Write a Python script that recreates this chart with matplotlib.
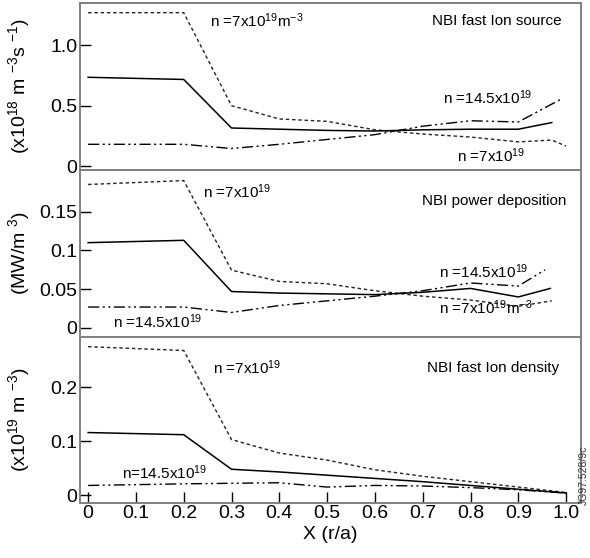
import matplotlib
matplotlib.use("Agg")
import matplotlib.pyplot as plt

plt.rcParams['font.family'] = ['Liberation Sans', 'DejaVu Sans']
plt.rcParams['mathtext.default'] = 'regular'

# radial positions (r/a) and profiles
# top panel: NBI fast ion source (x10^18 m^-3 s^-1)
x_src_lo = [0.0, 0.2, 0.3, 0.4, 0.5, 0.6, 0.7, 0.8, 0.9, 0.97, 1.0]
src_lo = [1.27, 1.27, 0.50, 0.39, 0.37, 0.30, 0.265, 0.24, 0.20, 0.215, 0.165]
x_src_mid = [0.0, 0.2, 0.3, 0.4, 0.5, 0.6, 0.7, 0.8, 0.9, 0.97]
src_mid = [0.735, 0.717, 0.315, 0.305, 0.295, 0.29, 0.30, 0.305, 0.305, 0.36]
x_src_hi = [0.0, 0.2, 0.3, 0.4, 0.5, 0.6, 0.7, 0.8, 0.9, 0.99]
src_hi = [0.18, 0.18, 0.145, 0.18, 0.22, 0.26, 0.33, 0.375, 0.365, 0.555]

# middle panel: NBI power deposition (MW/m^3)
x_pow_lo = [0.0, 0.2, 0.3, 0.4, 0.5, 0.6, 0.7, 0.8, 0.9, 0.97]
pow_lo = [0.185, 0.19, 0.0745, 0.06, 0.057, 0.048, 0.041, 0.036, 0.028, 0.035]
x_pow_mid = [0.0, 0.2, 0.3, 0.4, 0.5, 0.6, 0.7, 0.8, 0.9, 0.967]
pow_mid = [0.110, 0.113, 0.047, 0.045, 0.044, 0.043, 0.046, 0.051, 0.040, 0.051]
x_pow_hi = [0.0, 0.2, 0.3, 0.4, 0.5, 0.6, 0.7, 0.8, 0.9, 0.956]
pow_hi = [0.027, 0.027, 0.020, 0.029, 0.035, 0.041, 0.048, 0.058, 0.054, 0.075]

# bottom panel: NBI fast ion density (x10^19 m^-3)
x_den = [0.0, 0.2, 0.3, 0.4, 0.5, 0.6, 0.7, 0.8, 0.9, 1.0]
den_lo = [0.275, 0.268, 0.103, 0.078, 0.065, 0.047, 0.035, 0.025, 0.015, 0.005]
den_mid = [0.116, 0.112, 0.048, 0.043, 0.037, 0.031, 0.025, 0.018, 0.011, 0.004]
den_hi = [0.018, 0.021, 0.022, 0.023, 0.015, 0.018, 0.017, 0.014, 0.010, 0.004]

xticks = [0, 0.1, 0.2, 0.3, 0.4, 0.5, 0.6, 0.7, 0.8, 0.9, 1.0]
xtick_labels = ['0', '0.1', '0.2', '0.3', '0.4', '0.5', '0.6', '0.7', '0.8', '0.9', '1.0']

dashed = (0, (2.5, 2.0))
dashdot = (0, (8, 2.5, 1.5, 2.5, 1.5, 2.5))
spine_col = '#808080'

fig = plt.figure(figsize=(5.9, 5.58), dpi=100)
ax1 = fig.add_axes([0.1356, 0.6953, 0.849, 0.2993])
ax2 = fig.add_axes([0.1356, 0.3961, 0.849, 0.2993])
ax3 = fig.add_axes([0.1356, 0.0977, 0.849, 0.2984])

for ax in (ax1, ax2, ax3):
    for s in ax.spines.values():
        s.set_color(spine_col)
        s.set_linewidth(1.4)
    ax.set_xlim(-0.017, 1.031)
    ax.tick_params(axis='y', direction='in', length=8, width=1, pad=2,
                   labelsize=14, right=False)
    ax.yaxis.set_label_coords(-0.096, 0.5)

ax1.tick_params(axis='x', bottom=False, labelbottom=False)
ax2.tick_params(axis='x', bottom=False, labelbottom=False)
ax3.tick_params(axis='x', direction='in', length=8, width=1, pad=1,
                labelsize=14, top=False)

# top panel
ax1.plot(x_src_lo, src_lo, color='#222222', lw=1.0, linestyle=dashed)
ax1.plot(x_src_mid, src_mid, color='black', lw=1.1)
ax1.plot(x_src_hi, src_hi, color='black', lw=1.0, linestyle=dashdot)
ax1.set_ylim(-0.033, 1.35)
ax1.set_yticks([0, 0.5, 1.0])
ax1.set_yticklabels(['0', '0.5', '1.0'])
ax1.set_ylabel(r'(x10$^{18}$ m $^{-3}$s $^{-1}$)', fontsize=14)
ax1.text(0.255, 1.2, r'n =7x10$^{19}$m$^{-3}$', fontsize=11, va='center')
ax1.text(0.99, 1.2, 'NBI fast Ion source', fontsize=11, va='center', ha='right')
ax1.text(0.743, 0.567, r'n =14.5x10$^{19}$', fontsize=11, va='center')
ax1.text(0.772, 0.083, r'n =7x10$^{19}$', fontsize=11, va='center')

# middle panel
ax2.plot(x_pow_lo, pow_lo, color='#222222', lw=1.0, linestyle=dashed)
ax2.plot(x_pow_mid, pow_mid, color='black', lw=1.1)
ax2.plot(x_pow_hi, pow_hi, color='black', lw=1.0, linestyle=dashdot)
ax2.set_ylim(-0.0116, 0.2037)
ax2.set_yticks([0, 0.05, 0.1, 0.15])
ax2.set_yticklabels(['0', '0.05', '0.1', '0.15'])
ax2.set_ylabel(r'(MW/m $^{3}$)', fontsize=14)
ax2.text(0.241, 0.176, r'n =7x10$^{19}$', fontsize=11, va='center')
ax2.text(1.0, 0.164, 'NBI power deposition', fontsize=11, va='center', ha='right')
ax2.text(0.734, 0.0724, r'n =14.5x10$^{19}$', fontsize=11, va='center')
ax2.text(0.734, 0.0258, r'n =7x10$^{19}$m$^{-3}$', fontsize=11, va='center')
ax2.text(0.052, 0.0078, r'n =14.5x10$^{19}$', fontsize=11, va='center')

# bottom panel
ax3.plot(x_den, den_lo, color='#222222', lw=1.0, linestyle=dashed)
ax3.plot(x_den, den_mid, color='black', lw=1.1)
ax3.plot(x_den, den_hi, color='black', lw=1.0, linestyle=dashdot)
ax3.set_ylim(-0.0154, 0.293)
ax3.set_yticks([0, 0.1, 0.2])
ax3.set_yticklabels(['0', '0.1', '0.2'])
ax3.set_ylabel(r'(x10$^{19}$ m $^{-3}$)', fontsize=14)
ax3.set_xticks(xticks)
ax3.set_xticklabels(xtick_labels)
ax3.set_xlabel('X (r/a)', fontsize=14, labelpad=3)
ax3.text(0.262, 0.236, r'n =7x10$^{19}$', fontsize=11, va='center')
ax3.text(0.985, 0.235, 'NBI fast Ion density', fontsize=11, va='center', ha='right')
ax3.text(0.071, 0.041, r'n=14.5x10$^{19}$', fontsize=11, va='center')

fig.text(0.989, 0.095, 'JG97.528/9c', fontsize=7.5, rotation=90,
         ha='center', va='bottom', color='#333333')

fig.savefig('out.png', dpi=100)
